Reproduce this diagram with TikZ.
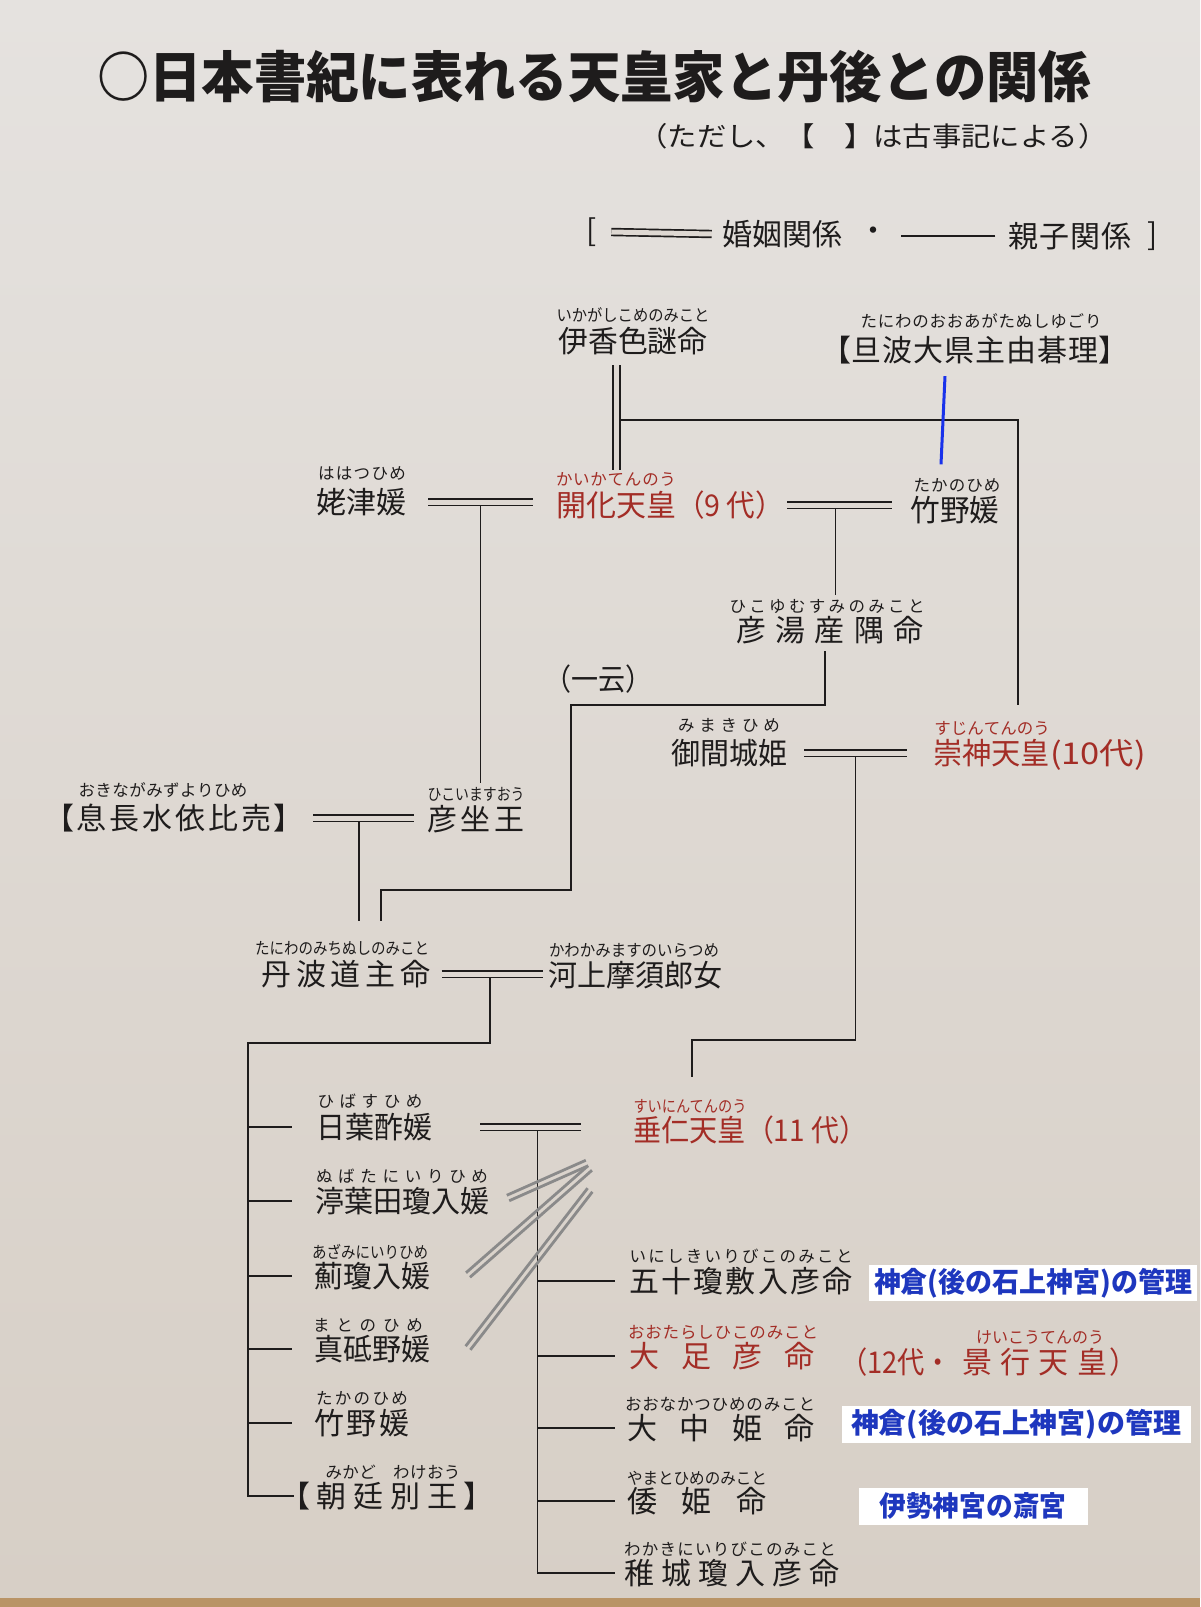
\documentclass[tikz,border=0pt]{standalone}
\usepackage{fontspec}
\usepackage{graphicx}
\setmainfont{Noto Sans CJK JP}
\usetikzlibrary{calc}
\definecolor{ink}{RGB}{30,28,28}
\definecolor{kred}{RGB}{163,45,38}
\definecolor{kblue}{RGB}{30,55,190}
\definecolor{lblue}{RGB}{25,50,235}
\definecolor{gline}{RGB}{138,138,138}
\definecolor{bgtop}{RGB}{229,226,223}
\definecolor{bgmid}{RGB}{222,216,210}
\definecolor{bgbot}{RGB}{215,207,198}
\definecolor{wood}{RGB}{185,148,102}
\newlength\fitlen
\newcommand\fitx[2]{\settowidth\fitlen{#2}\pgfmathsetmacro\fitf{#1/\fitlen}\scalebox{\fitf}[1]{#2}}
\def\spx#1{\ifx#1\relax\else\hfill#1\expandafter\spx\fi}
\def\spfirst#1{#1\spx}
\newcommand\spread[2]{\makebox[#1]{\spfirst#2\relax}}
\newcommand\fit[2]{\settowidth\fitlen{#2}\ifdim\fitlen<#1\relax\spread{#1}{#2}\else\fitx{#1}{#2}\fi}
\begin{document}
\begin{tikzpicture}[x=1pt,y=-1pt,
  nm/.style={inner sep=0pt, text=ink, font=\fontsize{30}{36}\selectfont},
  rb/.style={inner sep=0pt, text=ink, yshift=2.5pt, font=\fontsize{16.5}{20}\selectfont},
  nmr/.style={nm, text=kred},
  rbr/.style={rb, text=kred},
  ttl/.style={inner sep=0pt, text=ink, font=\fontsize{55}{60}\selectfont\bfseries},
  subt/.style={inner sep=0pt, text=ink, font=\fontsize{27}{32}\selectfont},
  box/.style={fill=white, inner sep=0pt, text=kblue, font=\fontsize{28}{32}\selectfont\bfseries},
  kin/.style={draw=ink, line width=1.8pt},
  marry/.style={draw=ink, line width=1.7pt, double=bgmid, double distance=5pt},
  bl/.style={draw=lblue, line width=3pt},
  gl/.style={draw=gline, line width=2.8pt}
]
% background
\fill[top color=bgtop, bottom color=bgbot] (0,0) rectangle (1200,1597);
\fill[wood] (0,1598) rectangle (1200,1607);
\useasboundingbox (0,0) rectangle (1200,1607);

% title and notes
\node[ttl] (title) at (594,77) {\fitx{994pt}{○日本書紀に表れる天皇家と丹後との関係}};
\node[subt] (sub) at (873,136) {\fitx{469pt}{（ただし、【　】は古事記による）}};

% legend
\node[nm] (lbr) at (592,232) {[};
\node[nm] (lg1) at (782,234) {\fit{120pt}{婚姻関係}};
\draw[marry] ([xshift=14pt]lbr.east) -- ([xshift=-10pt]lg1.west);
\node[nm] (dot) at (873,234) {・};
\node[nm] (lg2) at (1070,236) {\fit{123pt}{親子関係}};
\draw[kin] ([xshift=-13pt]lg2.west) -- ([xshift=-107pt]lg2.west);
\node[nm] (rbr) at (1153,236) {]};

% people
\node[nm] (ika) at (633,341) {\fit{149pt}{伊香色謎命}};
\node[rb] (ika-r) at (633,318) {\fit{153pt}{いかがしこめのみこと}};
\node[nm] (tanba) at (975,350) {\fit{308pt}{【旦波大県主由碁理】}};
\node[rb] (tanba-r) at (981,324) {\fit{241pt}{たにわのおおあがたぬしゆごり}};

\node[nm] (haha) at (361,502) {\fit{90pt}{姥津媛}};
\node[rb] (haha-r) at (362,476) {\fit{88pt}{ははつひめ}};
\node[nmr] (kaika) at (670,505) {\fit{120pt}{開化天皇}\fitx{108pt}{（9 代）}};
\node[rbr] (kaika-r) at (616,482) {\fit{120pt}{かいかてんのう}};
\node[nm] (take) at (955,510) {\fit{89pt}{竹野媛}};
\node[rb] (take-r) at (957,488) {\fit{87pt}{たかのひめ}};

\node[nm] (hikoyu) at (830,630) {\fit{188pt}{彦湯産隅命}};
\node[rb] (hikoyu-r) at (827,609) {\fit{195pt}{ひこゆむすみのみこと}};
\node[nm] (ichiun) at (598,679) {\fitx{108pt}{（一云）}};

\node[nm] (mima) at (729,753) {\fit{116pt}{御間城姫}};
\node[rb] (mima-r) at (729,728) {\fit{102pt}{みまきひめ}};
\node[nmr] (sujin) at (1039.5,755) {\fit{117pt}{崇神天皇}\fitx{96pt}{(10代)}};
\node[rbr] (sujin-r) at (992,731) {\fit{115pt}{すじんてんのう}};

\node[nm] (okina) at (174,818) {\fit{260pt}{【息長水依比売】}};
\node[rb] (okina-r) at (163,793) {\fit{169pt}{おきながみずよりひめ}};
\node[nm] (hikoi) at (476,819) {\fit{97pt}{彦坐王}};
\node[rb] (hikoi-r) at (476,797) {\fit{97pt}{ひこいますおう}};

\node[nm] (michi) at (346,974) {\fit{169pt}{丹波道主命}};
\node[rb] (michi-r) at (342,951) {\fit{174pt}{たにわのみちぬしのみこと}};
\node[nm] (kawa) at (635,975) {\fit{174pt}{河上摩須郎女}};
\node[rb] (kawa-r) at (634,953) {\fit{170pt}{かわかみますのいらつめ}};

\node[nm] (hibasu) at (374,1127) {\fit{116pt}{日葉酢媛}};
\node[rb] (hibasu-r) at (370,1104) {\fit{105pt}{ひばすひめ}};
\node[nm] (nuba) at (402,1201) {\fit{174pt}{渟葉田瓊入媛}};
\node[rb] (nuba-r) at (402,1179) {\fit{172pt}{ぬばたにいりひめ}};
\node[nm] (azami) at (372,1276) {\fit{116pt}{薊瓊入媛}};
\node[rb] (azami-r) at (370,1254) {\fit{116pt}{あざみにいりひめ}};
\node[nm] (mato) at (372,1349) {\fit{116pt}{真砥野媛}};
\node[rb] (mato-r) at (368,1328) {\fit{110pt}{まとのひめ}};
\node[nm] (take2) at (362,1423) {\fit{95pt}{竹野媛}};
\node[rb] (take2-r) at (362,1401) {\fit{92pt}{たかのひめ}};
\node[nm] (mikado) at (387,1496) {\fit{214pt}{【朝廷別王】}};
\node[rb] (mikado-r) at (393,1475) {\fit{135pt}{みかど　わけおう}};

\node[nmr] (suinin) at (750,1130) {\fit{113pt}{垂仁天皇}\fitx{121pt}{（11 代）}};
\node[rbr] (suinin-r) at (690,1109) {\fit{113pt}{すいにんてんのう}};

\node[nm] (inishiki) at (741,1281) {\fit{223pt}{五十瓊敷入彦命}};
\node[rb] (inishiki-r) at (741,1259) {\fit{223pt}{いにしきいりびこのみこと}};
\node[box, minimum width=328pt, minimum height=36pt] (box1) at (1033,1283) {\fitx{318pt}{神倉(後の石上神宮)の管理}};

\node[nmr] (ootarashi) at (722,1356) {\fit{185pt}{大足彦命}};
\node[rbr] (ootarashi-r) at (723,1335) {\fit{190pt}{おおたらしひこのみこと}};
\node[nmr, anchor=west] (keiko) at (840,1362) {\fitx{112pt}{（12代・}\hspace{10pt}\spread{145pt}{景行天皇}\hspace{2pt}\fitx{28pt}{）}};
\node[rbr] (keiko-r) at (1040,1340) {\fit{128pt}{けいこうてんのう}};

\node[nm] (oonaka) at (721,1428) {\fit{188pt}{大中姫命}};
\node[rb] (oonaka-r) at (720,1407) {\fit{190pt}{おおなかつひめのみこと}};
\node[box, minimum width=349pt, minimum height=37pt] (box2) at (1016,1424) {\fitx{330pt}{神倉(後の石上神宮)の管理}};

\node[nm] (yamato) at (697,1501) {\fit{140pt}{倭姫命}};
\node[rb] (yamato-r) at (697,1481) {\fit{140pt}{やまとひめのみこと}};
\node[box, minimum width=229pt, minimum height=37pt] (box3) at (973,1506) {\fitx{187pt}{伊勢神宮の斎宮}};

\node[nm] (waka) at (732,1573) {\fit{215pt}{稚城瓊入彦命}};
\node[rb] (waka-r) at (730,1552) {\fit{212pt}{わかきにいりびこのみこと}};

% ---- connectors ----
% 伊香色謎命 = 開化天皇
\coordinate (dvx) at (616.5,0);
\draw[marry] ($(dvx |- ika.south)+(0,10)$) -- ($(dvx |- kaika-r.north)+(0,-2)$);
% child: 崇神天皇
\coordinate (j1) at (620,420);
\coordinate (j1r) at (1018,420);
\draw[kin] (j1) -- (j1r) -- ($(j1r |- sujin-r.north)+(0,-16)$);
% 旦波大県主由碁理 - 竹野媛
\draw[bl] ($(tanba.south)+(-30,12)$) -- ($(take-r.north)+(-16,-14)$);

% 姥津媛 = 開化天皇 -> 彦坐王
\coordinate (m1a) at ([xshift=22pt]haha.east);
\coordinate (m1b) at ([xshift=-23pt]kaika.west |- m1a);
\draw[marry] (m1a) -- (m1b);
\coordinate (m1) at ($(m1a)!0.5!(m1b)+(0,3.4)$);
\draw[kin] (m1) -- ($(m1 |- hikoi-r.north)+(0,-4)$);

% 開化天皇 = 竹野媛 -> 彦湯産隅命
\coordinate (m2a) at ([xshift=3pt]kaika.east);
\coordinate (m2b) at ([xshift=-18pt]take.west |- m2a);
\draw[marry] (m2a) -- (m2b);
\coordinate (m2) at ($(m2a)!0.46!(m2b)+(0,3.4)$);
\draw[kin] (m2) -- ($(m2 |- hikoyu-r.north)+(0,-4)$);

% 彦湯産隅命 -> (一云) 丹波道主命
\coordinate (s1) at ($(hikoyu.south)+(-5,7)$);
\coordinate (p2) at (571,705);
\coordinate (p4) at (381,890);
\draw[kin] (s1) |- (p2) |- (p4) -- ($(p4 |- michi-r.north)+(0,-20)$);

% 御間城姫 = 崇神天皇 -> 垂仁天皇
\coordinate (m3a) at ([xshift=17pt]mima.east);
\coordinate (m3b) at ([xshift=-26pt]sujin.west |- m3a);
\draw[marry] (m3a) -- (m3b);
\coordinate (m3) at ($(m3a)!0.5!(m3b)+(0,3.4)$);
\coordinate (q1) at (692,1040);
\draw[kin] (m3) |- (q1) -- ($(q1 |- suinin-r.north)+(0,-22)$);

% 息長水依比売 = 彦坐王 -> 丹波道主命
\coordinate (m4a) at ([xshift=9pt]okina.east);
\coordinate (m4b) at ([xshift=-13pt]hikoi.west |- m4a);
\draw[marry] (m4a) -- (m4b);
\coordinate (m4) at ($(m4a)!0.45!(m4b)+(0,3.4)$);
\draw[kin] (m4) -- ($(m4 |- michi-r.north)+(0,-20)$);

% 丹波道主命 = 河上摩須郎女 -> daughters
\coordinate (m5a) at ([xshift=11pt]michi.east);
\coordinate (m5b) at ([xshift=-5pt]kawa.west |- m5a);
\draw[marry] (m5a) -- (m5b);
\coordinate (m5) at ($(m5a)!0.48!(m5b)+(0,3.4)$);
\coordinate (br1) at (248,1043);
\coordinate (tkl) at (292,0);
\draw[kin] (m5) |- (br1) -- (br1 |- mikado.west) -- ([xshift=14pt]mikado.west);
\foreach \c in {hibasu,nuba,azami,mato,take2}
  \draw[kin] (br1 |- \c.west) -- (tkl |- \c.west);

% 日葉酢媛 = 垂仁天皇 -> children
\coordinate (m6a) at ([xshift=48pt]hibasu.east);
\coordinate (m6b) at ([xshift=-52pt]suinin.west |- m6a);
\draw[marry] (m6a) -- (m6b);
\coordinate (m6) at ($(m6a)!0.57!(m6b)+(0,3.4)$);
\coordinate (tk) at (615,0);
\draw[kin] (m6) -- (m6 |- waka.west) -- (tk |- waka.west);
\foreach \c in {inishiki,ootarashi,oonaka,yamato}
  \draw[kin] (m6 |- \c.west) -- (tk |- \c.west);

% other wives of 垂仁天皇 (grey double lines)
\coordinate (g1a) at (508,1198); \coordinate (g1b) at (587,1163);
\coordinate (g2a) at (468,1275); \coordinate (g2b) at (590,1168);
\coordinate (g3a) at (468,1348); \coordinate (g3b) at (590,1190);
\foreach \a/\b in {g1a/g1b,g2a/g2b,g3a/g3b}{
  \draw[gl] ($(\a)!3pt!90:(\b)$) -- ($(\b)!3pt!-90:(\a)$);
  \draw[gl] ($(\a)!3pt!-90:(\b)$) -- ($(\b)!3pt!90:(\a)$);
}
\end{tikzpicture}
\end{document}
